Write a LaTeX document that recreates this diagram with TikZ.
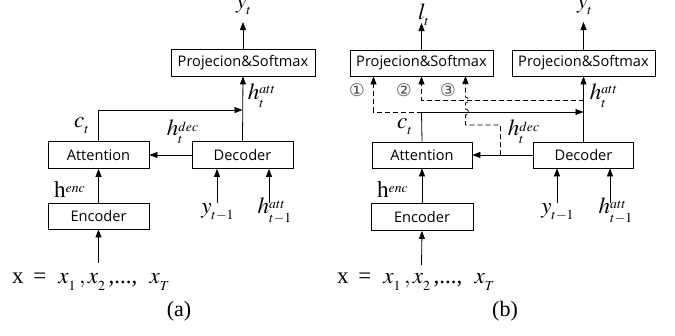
\documentclass[tikz,border=0pt]{standalone}
\usepackage{mathptmx}
\usepackage{fontspec}
\setmainfont{Liberation Serif}
\newfontfamily\boxfont{Open Sans}
\newfontfamily\symfont{DejaVu Sans}
\usetikzlibrary{arrows.meta}
\begin{document}
\begin{tikzpicture}[x=1pt,y=-1pt,
  box/.style={draw, line width=0.8pt, inner sep=0pt, font=\boxfont\fontsize{14.6}{16}\selectfont},
  conn/.style={line width=0.8pt, -{Triangle[length=8pt,width=6pt]}},
  plain/.style={line width=0.8pt},
  dconn/.style={line width=0.8pt, dash pattern=on 5pt off 3pt, -{Triangle[length=8pt,width=6pt]}},
  lbl/.style={inner sep=0pt, font=\fontsize{23}{25}\selectfont},
  captxt/.style={inner sep=0pt, font=\fontsize{22}{24}\selectfont},
  num/.style={inner sep=0pt, font=\symfont\fontsize{17.5}{18}\selectfont, text=black!70}]
\useasboundingbox (0,0) rectangle (675,335);
% ---------- panel (a) ----------
\node[box, minimum width=144pt, minimum height=27pt] (pa) at (243,62.5) {Projecion\&Softmax};
\node[box, minimum width=101pt, minimum height=27pt] (atta) at (98.5,155) {Attention};
\node[box, minimum width=101pt, minimum height=27pt] (deca) at (242.5,155) {Decoder};
\node[box, minimum width=101pt, minimum height=26pt] (enca) at (98.5,216) {Encoder};
\node[lbl] (yta) at (244,7) {$y_{_t}$};
\coordinate (yatip) at (243,22);
\draw[conn] (pa.north) -- (yatip);
\draw[conn] (deca.north) -- (pa.south);
\coordinate (ja) at (242.5,110);
\draw[conn] (atta.north) |- (ja);
\draw[conn] (deca.west) -- (atta.east);
\draw[conn] (enca.north) -- (atta.south);
\coordinate (ina) at (98.5,263);
\draw[conn] (ina) -- (enca.south);
\coordinate (ypa) at (217,203);
\coordinate (hpa) at (269,203);
\draw[conn] (ypa) -- (ypa |- deca.south);
\draw[conn] (hpa) -- (hpa |- deca.south);
\node[lbl] (yprev) at (218,212) {$y_{_{t-1}}$};
\node[lbl] (hprev) at (275,211) {$h^{_{att}}_{_{t-1}}$};
\node[lbl] (hatta) at (262,96) {$h^{_{att}}_{_t}$};
\node[lbl] (cta) at (82,126) {$c_{_t}$};
\node[lbl] (hdeca) at (183,132) {$h^{_{dec}}_{_t}$};
\node[lbl] (henca) at (70,190) {h$^{_{enc}}$};
\node[lbl, anchor=west] (xa) at (12,282) {x \,=\; $x_{_1}\,, x_{_2}\,$,...,\; $x_{_T}$};
\node[captxt] (capa) at (179,311) {(a)};
% ---------- panel (b) ----------
\node[box, minimum width=143pt, minimum height=26pt] (pl) at (421.5,63) {Projecion\&Softmax};
\node[box, minimum width=143pt, minimum height=26pt] (pr) at (583.5,63) {Projecion\&Softmax};
\node[box, minimum width=100pt, minimum height=26pt] (attb) at (422,155) {Attention};
\node[box, minimum width=100pt, minimum height=26pt] (decb) at (583.5,155) {Decoder};
\node[box, minimum width=102pt, minimum height=27pt] (encb) at (422,217) {Encoder};
\node[lbl] (ltb) at (424,15) {$l_{_t}$};
\node[lbl] (ytb) at (585,7) {$y_{_t}$};
\coordinate (ltip) at (421.5,23);
\coordinate (rtip) at (583.5,22);
\draw[conn] (pl.north) -- (ltip);
\draw[conn] (pr.north) -- (rtip);
\draw[conn] (decb.north) -- (pr.south);
\coordinate (jb) at (583.5,112);
\coordinate (cb) at (421.5,112);
\draw[plain] (attb.north) -- (cb);
\draw[conn] (cb) -- (jb);
\draw[conn] (decb.west) -- (attb.east);
\draw[conn] (encb.north) -- (attb.south);
\coordinate (inb) at (421.5,265);
\draw[conn] (inb) -- (encb.south);
% dashed paths
\coordinate (d1) at (373.5,112);
\draw[dconn] (cb) -- (d1) -- (d1 |- pl.south);
\coordinate (d2r) at (583.5,100);
\coordinate (d2l) at (421.5,100);
\draw[dconn] (d2r) -- (d2l) -- (pl.south);
\coordinate (d3s) at (500.5,155);
\coordinate (d3a) at (500.5,125);
\coordinate (d3b) at (465.5,125);
\coordinate (d3t) at (465.5,76);
\draw[dconn] (d3s) -- (d3a) -- (d3b) -- (465.5,115)
  .. controls (469.5,115) and (469.5,109) .. (465.5,109)
  -- (465.5,103) .. controls (469.5,103) and (469.5,97) .. (465.5,97)
  -- (d3t);
\node[num] (n1) at (357,90) {①};
\node[num] (n2) at (404,90) {②};
\node[num] (n3) at (448,90) {③};
\coordinate (ypb) at (557,203);
\coordinate (hpb) at (610,203);
\draw[conn] (ypb) -- (ypb |- decb.south);
\draw[conn] (hpb) -- (hpb |- decb.south);
\node[lbl] (yprevb) at (558,212) {$y_{_{t-1}}$};
\node[lbl] (hprevb) at (616,211) {$h^{_{att}}_{_{t-1}}$};
\node[lbl] (hattb) at (604,96) {$h^{_{att}}_{_t}$};
\node[lbl] (ctb) at (405,127) {$c_{_t}$};
\node[lbl] (hdecb) at (524,132) {$h^{_{dec}}_{_t}$};
\node[lbl] (hencb) at (393,190) {h$^{_{enc}}$};
\node[lbl, anchor=west] (xb) at (337,282) {x \,=\; $x_{_1}\,, x_{_2}\,$,...,\; $x_{_T}$};
\node[captxt] (capb) at (505,311) {(b)};
\end{tikzpicture}
\end{document}
